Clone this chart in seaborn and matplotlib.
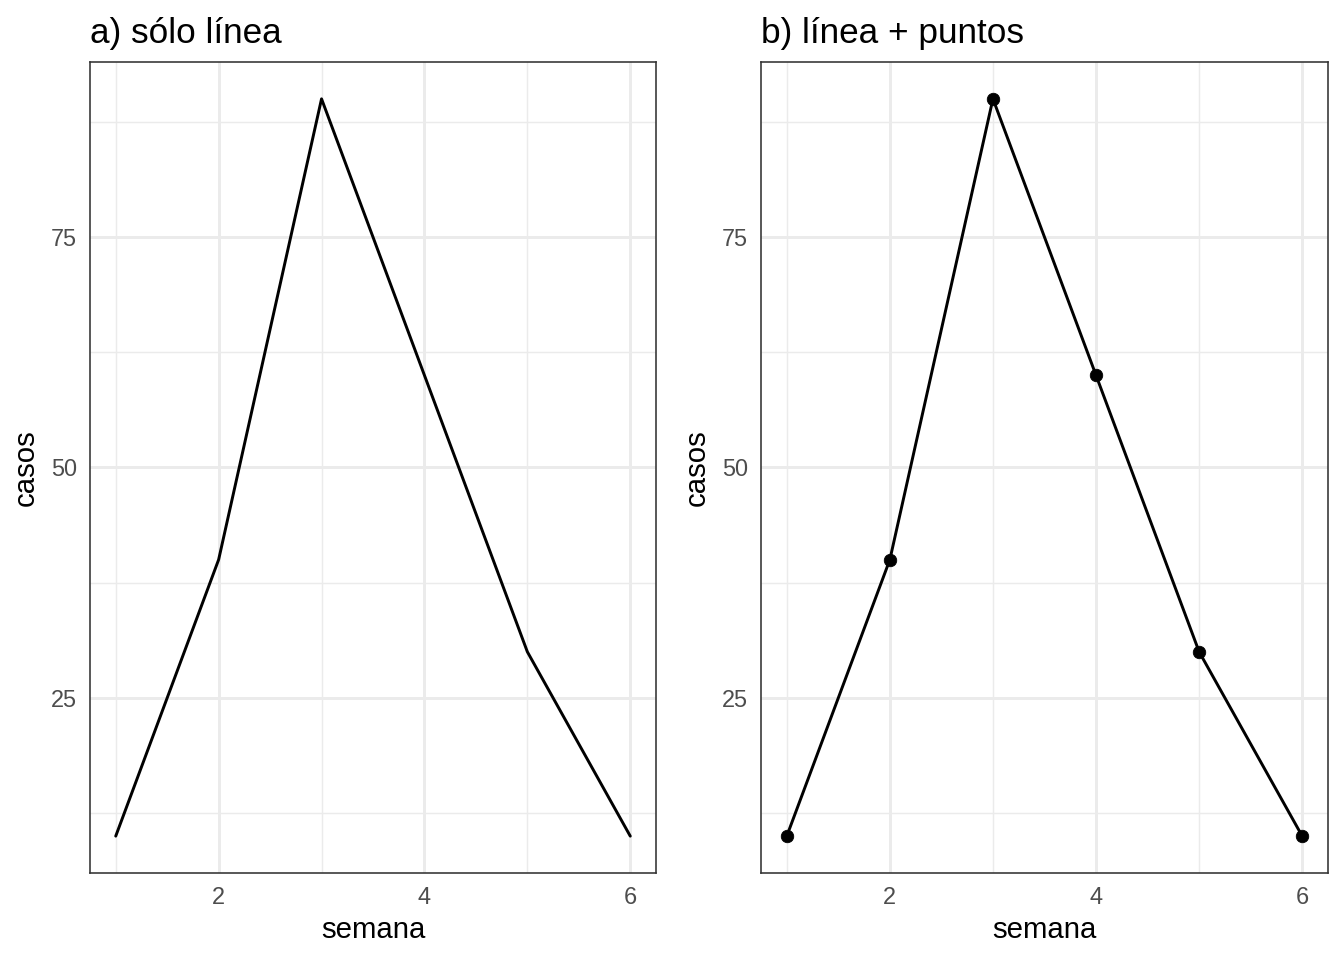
import seaborn as sns
import matplotlib.pyplot as plt
import pandas as pd

# data
semana = [1, 2, 3, 4, 5, 6]
casos = [10, 40, 90, 60, 30, 10]
titulos = ['a) sólo línea', 'b) línea + puntos']

df = pd.DataFrame({'semana': semana, 'casos': casos})

sns.set_theme(style='white')
plt.rcParams['font.family'] = ['Liberation Sans', 'DejaVu Sans']

fig = plt.figure(figsize=(7, 5), dpi=192)
ax_a = fig.add_axes([90 / 1344, 87 / 960, 566 / 1344, 811 / 960])
ax_b = fig.add_axes([761 / 1344, 87 / 960, 567 / 1344, 811 / 960])

for ax, titulo in zip([ax_a, ax_b], titulos):
    sns.lineplot(x='semana', y='casos', data=df, ax=ax, color='black', linewidth=1.1)
    if ax is ax_b:
        sns.scatterplot(x='semana', y='casos', data=df, ax=ax, color='black',
                        s=22, edgecolor='black', linewidth=0.3, zorder=3)
    ax.set_xlim(0.75, 6.25)
    ax.set_ylim(6, 94)
    ax.set_xticks([2, 4, 6])
    ax.set_yticks([25, 50, 75])
    ax.set_xticks([1, 3, 5], minor=True)
    ax.set_yticks([12.5, 37.5, 62.5, 87.5], minor=True)
    ax.grid(which='major', color='#EBEBEB', linewidth=1.1)
    ax.grid(which='minor', color='#EBEBEB', linewidth=0.55)
    ax.set_axisbelow(True)
    for s in ax.spines.values():
        s.set_color('#333333')
        s.set_linewidth(0.6)
    ax.tick_params(which='major', length=2.75, width=0.6, color='#333333',
                   labelcolor='#4D4D4D', labelsize=8.8, pad=2.2)
    ax.tick_params(which='minor', length=0)
    ax.set_xlabel('semana', fontsize=11, color='black', labelpad=2.5)
    ax.set_ylabel('casos', fontsize=11, color='black', labelpad=4)
    ax.set_title(titulo, loc='left', fontsize=13.2, color='black', pad=7)

fig.savefig('out.png', dpi=192)
